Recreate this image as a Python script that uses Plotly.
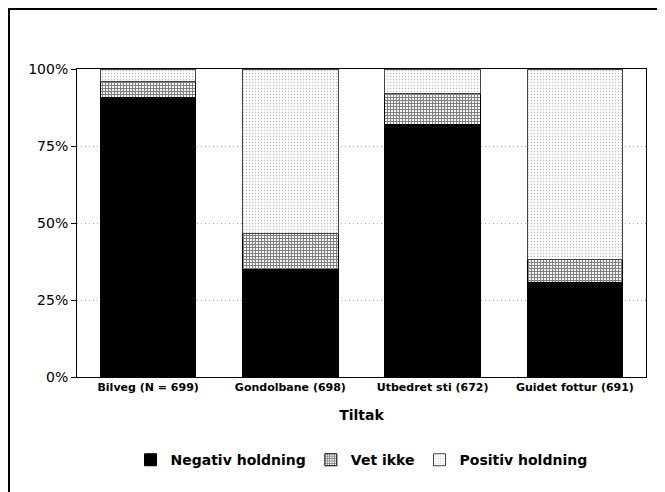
import plotly.graph_objects as go

categories = ["Bilveg (N = 699)", "Gondolbane (698)", "Utbedret sti (672)", "Guidet fottur (691)"]
negativ = [90.9, 35.0, 81.9, 30.8]
vet_ikke = [5.2, 11.6, 10.0, 7.3]
positiv = [3.9, 53.4, 8.1, 61.9]
y_ticks = [0, 25, 50, 75, 100]
y_labels = ["0%", "25%", "50%", "75%", "100%"]

FONT = "DejaVu Sans, Verdana, sans-serif"

fig = go.Figure()
fig.add_trace(go.Bar(
    x=categories, y=negativ, name="Negativ holdning",
    marker=dict(color="black", line=dict(color="black", width=1)),
))
fig.add_trace(go.Bar(
    x=categories, y=vet_ikke, name="Vet ikke",
    marker=dict(color="white", line=dict(color="black", width=1),
                pattern=dict(shape="+", fgcolor="black", bgcolor="white",
                             size=3, solidity=0.6)),
))
fig.add_trace(go.Bar(
    x=categories, y=positiv, name="Positiv holdning",
    marker=dict(color="white", line=dict(color="#444", width=1),
                pattern=dict(shape=".", fgcolor="#777", bgcolor="white",
                             size=3, solidity=0.2)),
))

# the page body has an 8px offset; positions below are measured in window pixels
OFF = 8
W, H = 665, 492
px_left, px_right, px_top, px_bottom = 77 - OFF, 646 - OFF, 69 - OFF, 377 - OFF
L, R, T, B = px_left, W - px_right, px_top, H - px_bottom
pw = W - L - R
ph = H - T - B

fig.update_layout(
    width=W, height=H,
    barmode="stack", bargap=0.33,
    plot_bgcolor="white", paper_bgcolor="white",
    margin=dict(l=L, r=R, t=T, b=B, autoexpand=False),
    font=dict(family=FONT, color="black"),
    showlegend=True,
    legend=dict(orientation="h", x=0.5, xanchor="center", y=-0.27, yanchor="middle",
                font=dict(size=14, family=FONT, weight="bold"), traceorder="normal",
                itemwidth=30, bgcolor="rgba(0,0,0,0)"),
    xaxis=dict(
        automargin=False,
        showline=True, linecolor="black", linewidth=1, mirror=True,
        tickfont=dict(size=11, family=FONT, weight="bold"),
        title=dict(text="<b>Tiltak</b>", font=dict(size=14, family=FONT), standoff=16),
        showgrid=False, ticks="",
    ),
    yaxis=dict(
        automargin=False,
        range=[0, 100], tickvals=y_ticks, ticktext=y_labels,
        showline=True, linecolor="black", linewidth=1, mirror=True,
        ticks="outside", ticklen=5, tickcolor="black",
        tickfont=dict(size=14, family=FONT),
        showgrid=True, gridcolor="#aaa", griddash="1px,3px", gridwidth=1,
        zeroline=False,
    ),
)

# outer frame
fig.add_shape(type="rect", xref="paper", yref="paper",
              x0=(9 - OFF - L) / pw, x1=(660 - OFF - L) / pw,
              y0=-(H - T) / ph - 0.05, y1=1 + (T - (9 - OFF)) / ph,
              line=dict(color="black", width=2), fillcolor="rgba(0,0,0,0)", layer="below")

fig.write_html("out.html")
